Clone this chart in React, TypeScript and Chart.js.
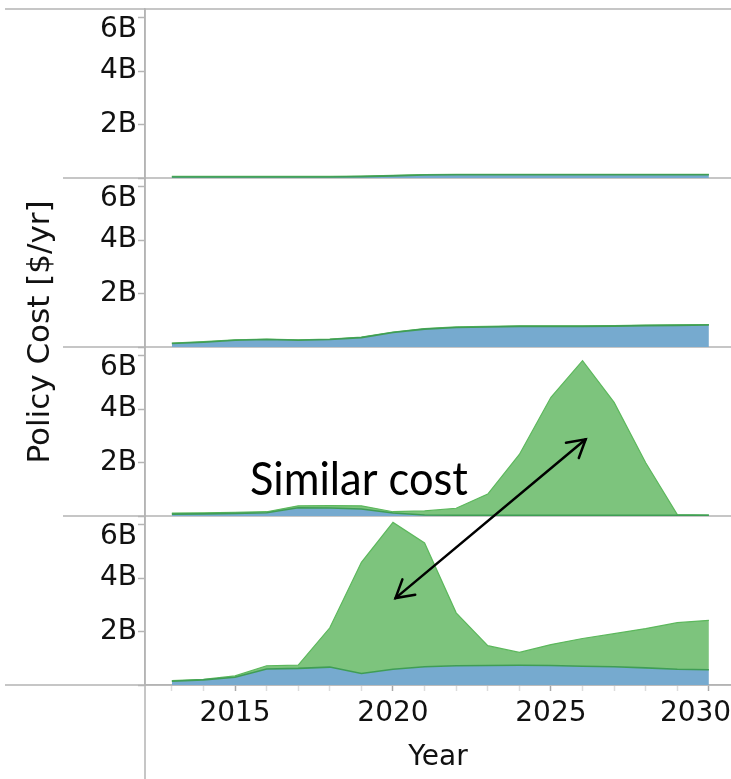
import React, { useEffect, useRef } from 'react';
import { Chart, registerables } from 'chart.js';

Chart.register(...registerables);

// ---------- data (billions of $/yr) ----------
const years = [2013, 2014, 2015, 2016, 2017, 2018, 2019, 2020, 2021, 2022, 2023, 2024, 2025, 2026, 2027, 2028, 2029, 2030];

// panel 1 (top)
const panel1Blue = [0.04, 0.04, 0.04, 0.04, 0.04, 0.04, 0.05, 0.08, 0.11, 0.12, 0.12, 0.12, 0.12, 0.12, 0.12, 0.12, 0.12, 0.12];
const panel1Green = [0.02, 0.02, 0.02, 0.02, 0.02, 0.02, 0.02, 0.02, 0.02, 0.02, 0.02, 0.02, 0.02, 0.02, 0.02, 0.02, 0.02, 0.02];
// panel 2
const panel2Blue = [0.13, 0.18, 0.25, 0.28, 0.25, 0.28, 0.35, 0.54, 0.67, 0.73, 0.75, 0.77, 0.77, 0.77, 0.78, 0.8, 0.81, 0.82];
const panel2Green = [0.02, 0.02, 0.02, 0.02, 0.02, 0.02, 0.02, 0.02, 0.02, 0.02, 0.02, 0.02, 0.02, 0.02, 0.02, 0.02, 0.02, 0.02];
// panel 3
const panel3Blue = [0.07, 0.08, 0.1, 0.12, 0.31, 0.3, 0.26, 0.11, 0.04, 0.03, 0.03, 0.03, 0.03, 0.03, 0.03, 0.03, 0.03, 0.03];
const panel3Green = [0.04, 0.04, 0.04, 0.04, 0.07, 0.09, 0.12, 0.05, 0.15, 0.26, 0.79, 2.27, 4.41, 5.78, 4.22, 1.96, 0.02, 0.0];
// panel 4 (bottom)
const panel4Blue = [0.14, 0.19, 0.29, 0.6, 0.62, 0.67, 0.43, 0.59, 0.68, 0.72, 0.73, 0.74, 0.73, 0.7, 0.68, 0.64, 0.59, 0.57];
const panel4Green = [0.02, 0.02, 0.05, 0.12, 0.12, 1.47, 4.16, 5.49, 4.63, 1.98, 0.74, 0.48, 0.78, 1.04, 1.24, 1.47, 1.74, 1.85];

const labeledYears = [2015, 2020, 2025, 2030];
const yTickStep = 2;
const yMax = 6.32;
const yAxisTitle = 'Policy Cost [$/yr]';
const xAxisTitle = 'Year';
const noteText = 'Similar cost';

// annotation anchors in data space
const noteAnchor = { year: 2015.47, value: 0.79, axis: 'y3' };
const arrowStart = { year: 2020.08, value: 3.25, axis: 'y4' };
const arrowEnd = { year: 2026.1, value: 2.87, axis: 'y3' };

// ---------- styles ----------
const BLUE_FILL = '#76aacf';
const GREEN_FILL = '#7dc47d';
const GREEN_LINE = '#5cb85c';
const EDGE_LINE = '#3f9d55';
const AXIS = '#b4b4b4';
const TEXT = '#111111';
const FONT = 'DejaVu Sans';

const panels = [
  { id: 'y1', blue: panel1Blue, green: panel1Green },
  { id: 'y2', blue: panel2Blue, green: panel2Green },
  { id: 'y3', blue: panel3Blue, green: panel3Green },
  { id: 'y4', blue: panel4Blue, green: panel4Green },
];

function yScale() {
  return {
    type: 'linear',
    position: 'left',
    stack: 'panels',
    stackWeight: 1,
    stacked: true,
    min: 0,
    max: yMax,
    border: { display: true, color: AXIS, width: 1.5 },
    grid: { drawOnChartArea: false, drawTicks: true, tickLength: 7, tickColor: AXIS, tickWidth: 1.5 },
    ticks: {
      stepSize: yTickStep,
      includeBounds: false,
      autoSkip: false,
      padding: 1,
      color: TEXT,
      font: { family: FONT, size: 28, lineHeight: 0.86 },
      // the top label is pushed just below its tick so it stays inside the panel
      callback: (v: number, i: number, ticks: any[]) =>
        v === 0 ? '' : i === ticks.length - 1 ? ['', `${v}B`] : `${v}B`,
    },
    afterFit: (s: any) => {
      s.width = 145;
      s.paddingTop = 0;
      s.paddingBottom = 0;
    },
  };
}

function drawArrowHead(ctx: CanvasRenderingContext2D, tx: number, ty: number, fx: number, fy: number) {
  const ang = Math.atan2(fy - ty, fx - tx);
  const len = 20;
  const spread = Math.PI / 6;
  ctx.beginPath();
  ctx.moveTo(tx + len * Math.cos(ang + spread), ty + len * Math.sin(ang + spread));
  ctx.lineTo(tx, ty);
  ctx.lineTo(tx + len * Math.cos(ang - spread), ty + len * Math.sin(ang - spread));
  ctx.stroke();
}

const decorations = {
  id: 'decorations',
  beforeDatasetsDraw(chart: any) {
    const { ctx } = chart;
    const W = chart.width;
    ctx.save();
    ctx.strokeStyle = AXIS;
    ctx.lineWidth = 1.5;
    const top = chart.scales.y1.top;
    ctx.beginPath();
    ctx.moveTo(5, top);
    ctx.lineTo(W, top);
    panels.forEach((p, i) => {
      const b = chart.scales[p.id].bottom;
      ctx.moveTo(i === panels.length - 1 ? 5 : 63, b);
      ctx.lineTo(W, b);
    });
    const ax = chart.scales.y1.right;
    ctx.moveTo(ax, top);
    ctx.lineTo(ax, chart.height);
    ctx.stroke();
    ctx.restore();
  },
  afterDraw(chart: any) {
    const { ctx } = chart;
    const xs = chart.scales.x;
    ctx.save();
    // y axis title
    ctx.fillStyle = TEXT;
    ctx.font = `31px "${FONT}"`;
    ctx.textAlign = 'center';
    ctx.textBaseline = 'middle';
    ctx.translate(41, 332);
    ctx.rotate(-Math.PI / 2);
    ctx.fillText(yAxisTitle, 0, 0);
    ctx.restore();

    // note
    ctx.save();
    ctx.fillStyle = '#000';
    ctx.font = '46px Lato';
    ctx.textAlign = 'left';
    ctx.textBaseline = 'alphabetic';
    const nx = xs.getPixelForValue(noteAnchor.year);
    const ny = chart.scales[noteAnchor.axis].getPixelForValue(noteAnchor.value);
    ctx.fillText(noteText, nx, ny, 218);

    // double arrow
    const x1 = xs.getPixelForValue(arrowStart.year);
    const y1 = chart.scales[arrowStart.axis].getPixelForValue(arrowStart.value);
    const x2 = xs.getPixelForValue(arrowEnd.year);
    const y2 = chart.scales[arrowEnd.axis].getPixelForValue(arrowEnd.value);
    ctx.strokeStyle = '#000';
    ctx.lineWidth = 2.5;
    ctx.lineCap = 'round';
    ctx.lineJoin = 'miter';
    ctx.beginPath();
    ctx.moveTo(x1, y1);
    ctx.lineTo(x2, y2);
    ctx.stroke();
    drawArrowHead(ctx, x1, y1, x2, y2);
    drawArrowHead(ctx, x2, y2, x1, y1);
    ctx.restore();
  },
};

export default function App() {
  const ref = useRef<HTMLCanvasElement | null>(null);

  useEffect(() => {
    if (!ref.current) return;
    const datasets: any[] = [];
    panels.forEach((p) => {
      datasets.push({
        label: 'base',
        data: years.map((x, i) => ({ x, y: p.blue[i] })),
        yAxisID: p.id,
        fill: 'origin',
        backgroundColor: BLUE_FILL,
        borderColor: EDGE_LINE,
        borderWidth: 1.6,
        pointRadius: 0,
        tension: 0,
      });
      datasets.push({
        label: 'policy',
        data: years.map((x, i) => ({ x, y: p.green[i] })),
        yAxisID: p.id,
        fill: '-1',
        backgroundColor: GREEN_FILL,
        borderColor: GREEN_LINE,
        borderWidth: 1.2,
        pointRadius: 0,
        tension: 0,
      });
    });

    const scales: any = {
      x: {
        type: 'linear',
        min: 2012.15,
        max: 2030.7,
        border: { display: true, color: AXIS, width: 1.5 },
        grid: {
          drawOnChartArea: false,
          drawTicks: true,
          tickLength: 6,
          tickWidth: 1.5,
          tickColor: (c: any) => (c.tick && labeledYears.includes(c.tick.value) ? '#a8a8a8' : '#dddddd'),
        },
        ticks: {
          stepSize: 1,
          includeBounds: false,
          autoSkip: false,
          maxRotation: 0,
          padding: 6,
          color: TEXT,
          font: { family: FONT, size: 28 },
          callback: (v: number) =>
            labeledYears.includes(v) ? (v === years[years.length - 1] ? `${v}   ` : `${v}`) : '',
        },
        title: {
          display: true,
          text: xAxisTitle,
          color: TEXT,
          font: { family: FONT, size: 28 },
          padding: { top: 0, bottom: 4 },
        },
        afterFit: (s: any) => {
          s.height = 94;
          s.paddingLeft = 0;
          s.paddingRight = 0;
        },
      },
    };
    // stacked axes are laid out bottom-up, so register the bottom panel first
    [...panels].reverse().forEach((p) => {
      scales[p.id] = yScale();
    });

    const chart = new Chart(ref.current, {
      type: 'line',
      data: { datasets },
      options: {
        responsive: false,
        animation: false,
        layout: { padding: { top: 9, left: 0, right: 0, bottom: 0 } },
        plugins: {
          legend: { display: false },
          tooltip: { enabled: false },
        },
        scales,
      } as any,
      plugins: [decorations],
    });
    return () => chart.destroy();
  }, []);

  return (
    <div style={{ position: 'absolute', left: 0, top: 0, width: 731, height: 779, background: '#fff' }}>
      <canvas ref={ref} width={731} height={779} style={{ display: 'block' }} />
    </div>
  );
}
